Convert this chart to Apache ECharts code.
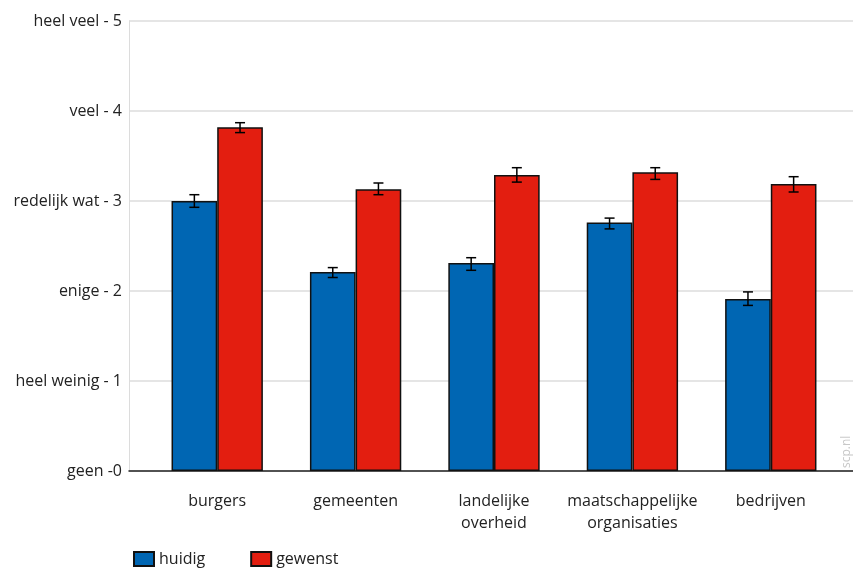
<!DOCTYPE html>
<html>
<head>
<meta charset="utf-8">
<script src="https://cdn.jsdelivr.net/npm/echarts@6/dist/echarts.min.js"></script>
<style>html,body{margin:0;padding:0;background:#fff}#c{width:853px;height:569px}</style>
</head>
<body>
<div id="c"></div>
<script>
const categories = ['burgers', 'gemeenten', 'landelijke\noverheid', 'maatschappelijke\norganisaties', 'bedrijven'];
const huidig = [3.00, 2.21, 2.31, 2.76, 1.91];
const huidigLow = [2.93, 2.15, 2.23, 2.69, 1.84];
const huidigHigh = [3.07, 2.26, 2.37, 2.81, 1.99];
const gewenst = [3.82, 3.13, 3.29, 3.32, 3.19];
const gewenstLow = [3.76, 3.07, 3.21, 3.24, 3.10];
const gewenstHigh = [3.87, 3.20, 3.37, 3.37, 3.27];
const yTickLabels = ['geen -0', 'heel weinig - 1', 'enige - 2', 'redelijk wat - 3', 'veel - 4', 'heel veel - 5'];
const seriesNames = ['huidig', 'gewenst'];

const FONT = 'Open Sans';
const FS = 16;
const CAT_GAP = 0.34;

function errData(low, high) {
  return categories.map((c, i) => [i, low[i], high[i]]);
}
function errRender(side) {
  return function (params, api) {
    const idx = api.value(0);
    const lo = api.coord([idx, api.value(1)]);
    const hi = api.coord([idx, api.value(2)]);
    const band = api.size([1, 0])[0];
    const bw = band * (1 - CAT_GAP) / 2;
    const x = lo[0] + side * bw / 2;
    const cap = 5;
    const style = { stroke: '#000', lineWidth: 1.5 };
    return {
      type: 'group',
      children: [
        { type: 'line', shape: { x1: x, y1: hi[1], x2: x, y2: lo[1] }, style },
        { type: 'line', shape: { x1: x - cap, y1: hi[1], x2: x + cap, y2: hi[1] }, style },
        { type: 'line', shape: { x1: x - cap, y1: lo[1], x2: x + cap, y2: lo[1] }, style }
      ]
    };
  };
}

const chart = echarts.init(document.getElementById('c'));
chart.setOption({
  animation: false,
  textStyle: { fontFamily: FONT },
  grid: [
    { left: 129, right: 0, top: 21, bottom: 98 },
    { left: 148, right: 13, top: 21, bottom: 98 }
  ],
  xAxis: [
    { gridIndex: 0, type: 'value', min: 0, max: 1, axisLine: { show: true, onZero: false, lineStyle: { color: '#222', width: 1.5 } },
      axisTick: { show: false }, axisLabel: { show: false }, splitLine: { show: false } },
    { gridIndex: 1, type: 'category', data: categories, axisLine: { show: false }, axisTick: { show: false },
      axisLabel: { color: '#222', fontSize: FS, lineHeight: 22, margin: 19, fontFamily: FONT, interval: 0 } }
  ],
  yAxis: [
    { gridIndex: 0, type: 'value', min: 0, max: 5, interval: 1,
      axisLine: { show: true, lineStyle: { color: '#dcdcdc', width: 1 } }, axisTick: { show: false },
      splitLine: { lineStyle: { color: '#dcdcdc', width: 1.5 } },
      axisLabel: { color: '#222', fontSize: FS, margin: 7, fontFamily: FONT, formatter: v => yTickLabels[v] } },
    { gridIndex: 1, type: 'value', min: 0, max: 5, show: false, splitLine: { show: false } }
  ],
  legend: {
    left: 128, top: 546, itemWidth: 20, itemHeight: 14, itemGap: 45,
    icon: 'rect', textStyle: { fontSize: FS, color: '#222', fontFamily: FONT },
    data: seriesNames
  },
  series: [
    { name: seriesNames[0], type: 'bar', xAxisIndex: 1, yAxisIndex: 1, data: huidig, barGap: '0%', barCategoryGap: '34%',
      itemStyle: { color: '#0066b3', borderColor: '#111', borderWidth: 1.5 } },
    { name: seriesNames[1], type: 'bar', xAxisIndex: 1, yAxisIndex: 1, data: gewenst, barGap: '0%', barCategoryGap: '34%',
      itemStyle: { color: '#e31e10', borderColor: '#111', borderWidth: 1.5 } },
    { type: 'custom', xAxisIndex: 1, yAxisIndex: 1, data: errData(huidigLow, huidigHigh), renderItem: errRender(-1), z: 10,
      encode: { x: 0, y: [1, 2] } },
    { type: 'custom', xAxisIndex: 1, yAxisIndex: 1, data: errData(gewenstLow, gewenstHigh), renderItem: errRender(1), z: 10,
      encode: { x: 0, y: [1, 2] } }
  ],
  graphic: [
    { type: 'text', x: 841, y: 468, rotation: Math.PI / 2,
      style: { text: 'scp.nl', fill: '#c8c8c8', fontSize: 12, fontFamily: FONT } }
  ]
});
</script>
</body>
</html>
